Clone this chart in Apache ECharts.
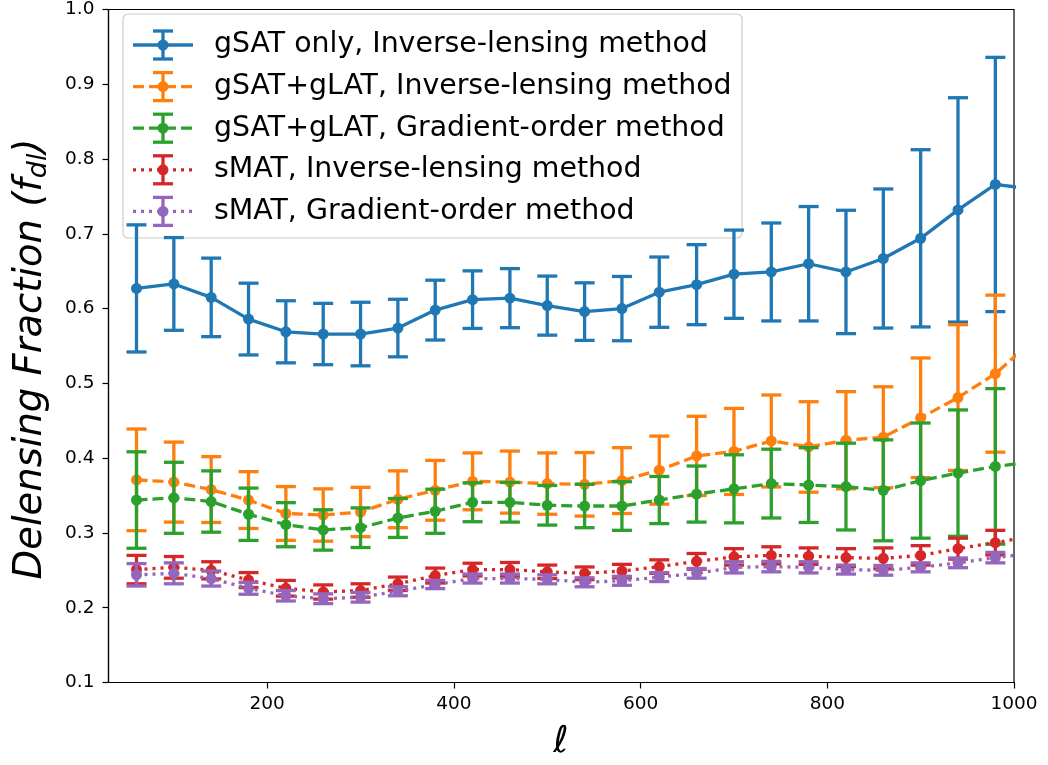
<!DOCTYPE html>
<html>
<head>
<meta charset="utf-8">
<script src="https://cdn.jsdelivr.net/npm/echarts@6/dist/echarts.min.js"></script>
<style>
  html, body { margin: 0; padding: 0; background: #fff; }
  #chart { width: 1048px; height: 765px; }
</style>
</head>
<body>
<div id="chart"></div>
<script>
// Multipole bin centres
const ells = [60, 100, 140, 180, 220, 260, 300, 340, 380, 420, 460, 500, 540, 580,
              620, 660, 700, 740, 780, 820, 860, 900, 940, 980, 1020];

// Delensing fraction and 1-sigma error per bin
const gsatInv = [0.627, 0.633, 0.615, 0.586, 0.569, 0.566, 0.566, 0.574, 0.598, 0.612, 0.614, 0.604, 0.596, 0.600,
                 0.622, 0.632, 0.646, 0.649, 0.660, 0.649, 0.667, 0.694, 0.732, 0.766, 0.760];
const gsatInvErr = [0.085, 0.062, 0.0525, 0.048, 0.0415, 0.041, 0.0425, 0.0385, 0.040, 0.0385, 0.0395, 0.0395, 0.0385, 0.043,
                    0.047, 0.0535, 0.059, 0.0655, 0.0765, 0.0825, 0.093, 0.1185, 0.150, 0.170, 0.190];

const glatInv = [0.371, 0.368, 0.358, 0.344, 0.326, 0.324, 0.328, 0.345, 0.357, 0.369, 0.368, 0.366, 0.365, 0.370,
                 0.384, 0.403, 0.409, 0.423, 0.415, 0.424, 0.428, 0.454, 0.481, 0.513, 0.557];
const glatInvErr = [0.068, 0.0535, 0.044, 0.038, 0.036, 0.035, 0.033, 0.038, 0.040, 0.038, 0.0415, 0.041, 0.0425, 0.044,
                    0.0455, 0.053, 0.0575, 0.0615, 0.0605, 0.065, 0.0675, 0.080, 0.0975, 0.105, 0.115];

const glatGrad = [0.344, 0.347, 0.342, 0.325, 0.311, 0.304, 0.307, 0.320, 0.329, 0.341, 0.341, 0.337, 0.336, 0.336,
                  0.344, 0.352, 0.359, 0.366, 0.364, 0.362, 0.357, 0.370, 0.380, 0.389, 0.395];
const glatGradErr = [0.0645, 0.0475, 0.041, 0.035, 0.0295, 0.027, 0.0265, 0.026, 0.0295, 0.026, 0.0265, 0.0265, 0.029, 0.0325,
                     0.0315, 0.0375, 0.0455, 0.046, 0.050, 0.058, 0.0675, 0.077, 0.0845, 0.104, 0.110];

const smatInv = [0.251, 0.254, 0.250, 0.237, 0.226, 0.221, 0.223, 0.232, 0.243, 0.251, 0.251, 0.248, 0.246, 0.249,
                 0.255, 0.262, 0.268, 0.270, 0.269, 0.267, 0.266, 0.270, 0.279, 0.287, 0.296];
const smatInvErr = [0.019, 0.0145, 0.0115, 0.010, 0.0105, 0.0095, 0.009, 0.009, 0.010, 0.0085, 0.0095, 0.009, 0.0085, 0.009,
                    0.009, 0.0105, 0.011, 0.0115, 0.011, 0.012, 0.014, 0.013, 0.014, 0.0165, 0.018];

const smatGrad = [0.244, 0.246, 0.239, 0.226, 0.216, 0.212, 0.214, 0.222, 0.231, 0.239, 0.239, 0.238, 0.234, 0.236,
                  0.241, 0.246, 0.254, 0.255, 0.254, 0.251, 0.250, 0.254, 0.260, 0.267, 0.273];
const smatGradErr = [0.015, 0.014, 0.010, 0.008, 0.007, 0.0065, 0.0065, 0.006, 0.0055, 0.006, 0.006, 0.006, 0.006, 0.006,
                     0.006, 0.0065, 0.0075, 0.007, 0.0075, 0.006, 0.0065, 0.006, 0.0065, 0.007, 0.007];

const seriesNames = [
  'gSAT only, Inverse-lensing method',
  'gSAT+gLAT, Inverse-lensing method',
  'gSAT+gLAT, Gradient-order method',
  'sMAT, Inverse-lensing method',
  'sMAT, Gradient-order method'
];
const xTicks = [200, 400, 600, 800, 1000];
const yMin = 0.1, yMax = 1.0, yStep = 0.1;
const xMin = 30, xMax = 1000;

const colors = ['#1f77b4', '#ff7f0e', '#2ca02c', '#d62728', '#9467bd'];
const dashes = ['solid', [11, 5], [11, 5], [3, 5], [3, 5]];
const values = [gsatInv, glatInv, glatGrad, smatInv, smatGrad];
const errors = [gsatInvErr, glatInvErr, glatGradErr, smatInvErr, smatGradErr];

const LW = 3.3;
const CAP = 10;

function errorBarItem(color) {
  return function (params, api) {
    const x = api.value(0), y = api.value(1), e = api.value(2);
    const top = api.coord([x, y + e]);
    const bot = api.coord([x, y - e]);
    const st = { stroke: color, lineWidth: LW };
    return {
      type: 'group',
      children: [
        { type: 'line', shape: { x1: top[0], y1: top[1], x2: bot[0], y2: bot[1] }, style: st },
        { type: 'line', shape: { x1: top[0] - CAP, y1: top[1], x2: top[0] + CAP, y2: top[1] }, style: st },
        { type: 'line', shape: { x1: bot[0] - CAP, y1: bot[1], x2: bot[0] + CAP, y2: bot[1] }, style: st }
      ]
    };
  };
}

const series = [];
values.forEach((vals, k) => {
  const errData = [];
  const lineData = [];
  ells.forEach((l, i) => {
    lineData.push([l, vals[i]]);
    if (l <= xMax) errData.push([l, vals[i], errors[k][i]]);
  });
  series.push({
    name: seriesNames[k] + ' err',
    type: 'custom',
    renderItem: errorBarItem(colors[k]),
    data: errData,
    z: 2 + k * 2,
    silent: true,
    encode: { x: 0, y: 1 }
  });
  series.push({
    name: seriesNames[k],
    type: 'line',
    data: lineData,
    symbol: 'circle',
    symbolSize: 11,
    showAllSymbol: true,
    itemStyle: { color: colors[k] },
    lineStyle: { color: colors[k], width: LW, type: dashes[k], cap: 'butt' },
    z: 3 + k * 2,
    clip: true
  });
});

// Legend box with line, marker and error bar handles
const legendX = 123, legendY = 14, legendW = 619, legendH = 224;
const rowY0 = 45, rowStep = 41.6;
const legendChildren = [{
  type: 'rect',
  shape: { x: legendX, y: legendY, width: legendW, height: legendH, r: 5 },
  style: { fill: 'rgba(255,255,255,0.8)', stroke: '#cccccc', lineWidth: 1.2 }
}];
seriesNames.forEach((name, k) => {
  const cy = rowY0 + k * rowStep;
  const c = colors[k];
  legendChildren.push(
    { type: 'line', shape: { x1: 133, y1: cy, x2: 193, y2: cy },
      style: { stroke: c, lineWidth: LW, lineDash: dashes[k] === 'solid' ? null : dashes[k] } },
    { type: 'line', shape: { x1: 163, y1: cy - 14, x2: 163, y2: cy + 14 }, style: { stroke: c, lineWidth: LW } },
    { type: 'line', shape: { x1: 163 - CAP, y1: cy - 14, x2: 163 + CAP, y2: cy - 14 }, style: { stroke: c, lineWidth: LW } },
    { type: 'line', shape: { x1: 163 - CAP, y1: cy + 14, x2: 163 + CAP, y2: cy + 14 }, style: { stroke: c, lineWidth: LW } },
    { type: 'circle', shape: { cx: 163, cy: cy, r: 5.5 }, style: { fill: c } },
    { type: 'text', x: 214, y: cy,
      style: { text: name, fill: '#000', font: '28.4px "DejaVu Sans"', textAlign: 'left', textVerticalAlign: 'middle' } }
  );
});

const chart = echarts.init(document.getElementById('chart'), null, { renderer: 'canvas' });
chart.setOption({
  animation: false,
  backgroundColor: '#ffffff',
  grid: {
    left: 108.5, right: 34, top: 7.5, bottom: 82.5,
    show: true, borderColor: '#000', borderWidth: 1.2, backgroundColor: 'transparent'
  },
  xAxis: {
    type: 'value',
    min: xMin, max: xMax,
    splitLine: { show: false },
    axisLine: { show: true, onZero: false, lineStyle: { color: '#000', width: 1.2 } },
    axisTick: { show: true, length: 6, lineStyle: { color: '#000', width: 1.2 }, customValues: xTicks },
    axisLabel: { color: '#000', fontFamily: 'DejaVu Sans', fontSize: 18.5, margin: 12, customValues: xTicks,
                 showMaxLabel: true, formatter: v => String(v) }
  },
  yAxis: {
    type: 'value',
    min: yMin, max: yMax, interval: yStep,
    splitLine: { show: false },
    axisLine: { show: true, onZero: false, lineStyle: { color: '#000', width: 1.2 } },
    axisTick: { show: true, length: 6, lineStyle: { color: '#000', width: 1.2 } },
    axisLabel: { color: '#000', fontFamily: 'DejaVu Sans', fontSize: 18.5, margin: 14,
                 formatter: v => v.toFixed(1) }
  },
  series: series,
  graphic: [
    {
      type: 'group', z: 100, children: legendChildren
    },
    {
      type: 'text', x: 31, y: 359, rotation: Math.PI / 2, z: 100,
      style: {
        text: '{n|Delensing Fraction (}{f|f}{s|dl}{n|)}',
        textAlign: 'center', textVerticalAlign: 'middle',
        rich: {
          n: { fontFamily: 'DejaVu Sans', fontStyle: 'italic', fontSize: 38.5, fill: '#000' },
          f: { fontFamily: 'DejaVu Sans', fontStyle: 'italic', fontSize: 38.5, fill: '#000' },
          s: { fontFamily: 'DejaVu Sans', fontStyle: 'italic', fontSize: 27, fill: '#000', padding: [15, 0, 0, 0] }
        }
      }
    },
    {
      type: 'text', x: 561, y: 742, z: 100,
      style: { text: 'ℓ', font: 'italic 37px "DejaVu Sans"', fill: '#000', textAlign: 'center', textVerticalAlign: 'middle' }
    }
  ]
});
</script>
</body>
</html>
